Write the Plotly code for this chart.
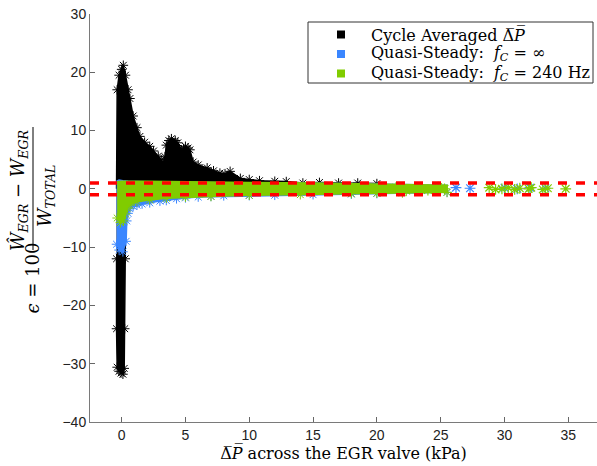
import plotly.graph_objects as go

# ---------------- data ----------------
# Cycle averaged dP (black cloud): upper envelope, left -> right
black_upper_x = [-0.40, -0.35, -0.20, 0.00, 0.13, 0.30, 0.50, 0.65, 0.90, 1.20, 1.43, 1.80, 2.20, 2.50,
                 2.87, 3.10, 3.26, 3.40, 3.50, 3.70, 3.90, 4.20, 4.40, 4.70, 4.85, 5.00, 5.20, 5.35,
                 5.60, 6.00, 6.70, 7.20, 7.70, 8.10, 8.50, 9.30, 10.0, 10.8, 12.0, 12.9, 14.2, 15.5,
                 17.0, 18.5, 20.0]
black_upper_y = [0.0, 17.0, 19.5, 20.5, 21.2, 19.5, 17.0, 15.5, 12.5, 10.5, 9.0, 8.0, 7.3, 6.5,
                 5.6, 5.0, 4.4, 5.5, 7.5, 8.3, 8.6, 8.3, 7.9, 6.7, 6.9, 7.3, 7.0, 6.7,
                 4.6, 4.1, 3.6, 3.1, 2.7, 2.6, 3.0, 1.8, 1.6, 1.4, 1.3, 1.25, 1.0, 1.1,
                 1.0, 1.0, 0.9]
# lower envelope, right -> left (spike down to about -31.7 at dP ~ 0)
black_lower_x = [20.0, 10.0, 2.0, 0.30, 0.28, 0.24, 0.20, 0.10, -0.05, -0.20, -0.35, -0.40, -0.40]
black_lower_y = [-0.5, -0.6, -0.6, -0.6, -12.0, -24.0, -30.8, -31.8, -31.6, -31.3, -30.6, -24.0, -12.0]

# Quasi-steady fC = inf (blue)
blue_upper_x = [-0.40, -0.20, 0.10, 0.50, 2.0, 5.0, 10.0, 15.0, 20.0, 25.5]
blue_upper_y = [1.3, 1.5, 1.4, 1.3, 1.2, 1.1, 1.0, 1.0, 0.8, 0.6]
blue_lower_x = [25.5, 20.0, 18.0, 15.0, 12.0, 10.0, 8.0, 7.0, 6.0, 5.0, 4.3, 3.5, 3.0, 2.2, 1.6,
                1.2, 0.9, 0.65, 0.5, 0.40, 0.35, 0.10, -0.20, -0.40]
blue_lower_y = [-0.6, -0.8, -0.9, -1.0, -1.1, -1.15, -1.2, -1.3, -1.4, -1.55, -1.7, -2.0, -2.1, -2.4, -2.6,
                -2.8, -3.0, -3.4, -4.2, -5.5, -9.0, -10.8, -10.5, -9.5]
blue_sparse_x = [26.2, 27.3, 30.0, 31.0, 32.0, 33.2]
blue_sparse_y = [0.2, 0.1, 0.2, 0.0, 0.2, 0.1]

# Quasi-steady fC = 240 Hz (green)
green_upper_x = [-0.35, 0.0, 2.0, 5.0, 10.0, 15.0, 20.0, 25.5]
green_upper_y = [1.2, 1.3, 1.3, 1.2, 1.1, 1.0, 0.8, 0.6]
green_lower_x = [25.5, 22.0, 20.0, 18.0, 14.0, 10.0, 7.0, 5.0, 3.5, 2.2, 1.2, 0.65, 0.45, 0.30,
                 0.15, -0.10, -0.35]
green_lower_y = [-0.6, -0.7, -0.75, -0.8, -1.0, -1.1, -1.3, -1.4, -1.6, -1.9, -2.2, -2.8, -3.3, -4.3,
                 -5.5, -5.8, -5.0]
green_sparse_x = [21.5, 22.3, 23.0, 24.0, 24.8, 25.3, 28.8, 29.3, 29.8, 30.3, 30.8, 31.2, 31.9, 32.1,
                  33.0, 33.4, 34.8]
green_sparse_y = [0.2, -0.3, 0.1, -0.2, 0.3, 0.0, 0.2, -0.1, 0.0, 0.2, -0.1, 0.1, 0.0, 0.2,
                  -0.1, 0.1, 0.0]

error_band = [-1.0, 1.0]

x_ticks = [0, 5, 10, 15, 20, 25, 30, 35]
y_ticks = [-40, -30, -20, -10, 0, 10, 20, 30]

DP = "Δ\u0305<i>P\u0305</i>"
series_names = ["Cycle Averaged " + DP,
                "Quasi-Steady:  <i>f</i><sub><i>C</i></sub> = ∞",
                "Quasi-Steady:  <i>f</i><sub><i>C</i></sub> = 240 Hz"]
x_title = DP + " across the EGR valve (kPa)"

BLACK = "#000000"
BLUE = "#3a86ff"
GREEN = "#80cc00"
series_colors = [BLACK, BLUE, GREEN]
SERIF = "DejaVu Serif, Liberation Serif, serif"
SANS = "Liberation Sans, Arial, sans-serif"

fig = go.Figure()


def cloud(name, ux, uy, lx, ly, color, sx=None, sy=None, star_x=None, star_y=None):
    fig.add_trace(go.Scatter(x=ux + lx, y=uy + ly, mode="lines", fill="toself", name=name,
                             fillcolor=color, line=dict(color=color, width=1.5),
                             hoverinfo="skip", showlegend=False))
    if star_x is not None:
        fig.add_trace(go.Scatter(x=star_x, y=star_y, mode="markers", showlegend=False,
                                 hoverinfo="skip",
                                 marker=dict(symbol="asterisk-open", size=8, color=color,
                                             line=dict(width=1, color=color))))
    if sx is not None:
        fig.add_trace(go.Scatter(x=sx, y=sy, mode="markers", showlegend=False,
                                 hoverinfo="skip",
                                 marker=dict(symbol="asterisk-open", size=9, color=color,
                                             line=dict(width=1.2, color=color))))


cloud(series_names[0], black_upper_x, black_upper_y, black_lower_x, black_lower_y, BLACK,
      star_x=black_upper_x[1:] + black_lower_x[4:], star_y=black_upper_y[1:] + black_lower_y[4:])
cloud(series_names[1], blue_upper_x, blue_upper_y, blue_lower_x, blue_lower_y, BLUE,
      sx=blue_sparse_x, sy=blue_sparse_y, star_x=blue_lower_x, star_y=blue_lower_y)
cloud(series_names[2], green_upper_x, green_upper_y, green_lower_x, green_lower_y, GREEN,
      sx=green_sparse_x, sy=green_sparse_y, star_x=green_lower_x, star_y=green_lower_y)

# red dashed +/-1 % error lines
for yv in error_band:
    fig.add_shape(type="line", xref="paper", x0=0, x1=1, yref="y", y0=yv, y1=yv,
                  line=dict(color="#ff0000", width=3.5, dash="9px,9px"), layer="above")

# ---- legend box (drawn in paper space to match the reference's compact layout) ----
W_PLOT, H_PLOT, L, T = 507.0, 408.0, 90.0, 14.0


def px(x):
    return (x - L) / W_PLOT


def py(y):
    return (T + H_PLOT - y) / H_PLOT


fig.add_shape(type="rect", xref="paper", yref="paper", x0=px(308), x1=px(593), y0=py(83), y1=py(22),
              line=dict(color="#333", width=1), fillcolor="white", layer="above")
for i, (name, col) in enumerate(zip(series_names, series_colors)):
    yc = 34.5 + 19.5 * i
    fig.add_shape(type="rect", xref="paper", yref="paper", x0=px(337), x1=px(345),
                  y0=py(yc + 4), y1=py(yc - 4), line=dict(width=0), fillcolor=col, layer="above")
    fig.add_annotation(xref="paper", yref="paper", x=px(369), y=py(yc), text=name, showarrow=False,
                       xanchor="left", yanchor="middle",
                       font=dict(family=SERIF, size=16, color="#000"))

# y-axis title built as a rotated fraction
ann_font = dict(family=SERIF, size=18, color="#000")
fig.add_annotation(xref="paper", yref="paper", x=px(18), y=py(190), textangle=-90,
                   text="<i>Ŵ</i><sub><i>EGR</i></sub> − <i>W</i><sub><i>EGR</i></sub>",
                   showarrow=False, font=ann_font, xanchor="center", yanchor="middle")
fig.add_annotation(xref="paper", yref="paper", x=px(46), y=py(196), textangle=-90,
                   text="<i>W</i><sub><i>TOTAL</i></sub>",
                   showarrow=False, font=ann_font, xanchor="center", yanchor="middle")
fig.add_annotation(xref="paper", yref="paper", x=px(32.5), y=py(278), textangle=-90,
                   text="<i>ϵ</i> = 100",
                   showarrow=False, font=ann_font, xanchor="center", yanchor="middle")
fig.add_shape(type="line", xref="paper", yref="paper", x0=px(33), x1=px(33),
              y0=py(250), y1=py(127), line=dict(color="#000", width=1))

fig.update_layout(
    width=597, height=466,
    margin=dict(l=90, r=0, t=14, b=44),
    paper_bgcolor="white", plot_bgcolor="white",
    showlegend=False,
    xaxis=dict(range=[-2.48, 37.25], tickvals=x_ticks, ticks="inside", ticklen=5,
               tickcolor="#666", showline=True, linecolor="#7a7a7a", linewidth=1,
               showgrid=False, zeroline=False,
               tickfont=dict(family=SANS, size=14, color="#222"),
               title=dict(text=x_title,
                          font=dict(family=SERIF, size=16, color="#000"), standoff=5)),
    yaxis=dict(range=[-40, 30], tickvals=y_ticks, ticks="inside", ticklen=5,
               tickcolor="#666", showline=True, linecolor="#7a7a7a", linewidth=1,
               showgrid=False, zeroline=False,
               tickfont=dict(family=SANS, size=14, color="#222")),
)

fig.write_html("out.html", post_script="document.body.style.margin='0';",
               config={"displayModeBar": False})
